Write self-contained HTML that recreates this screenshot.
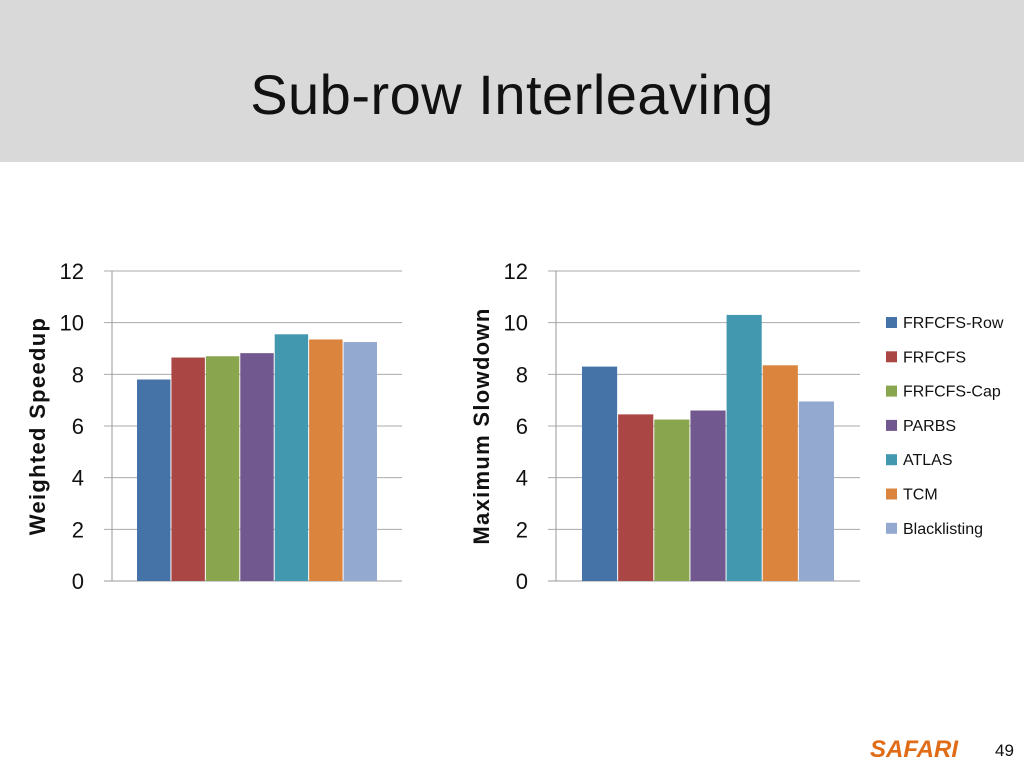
<!DOCTYPE html>
<html><head><meta charset="utf-8"><style>
body{margin:0;width:1024px;height:768px;background:#fff;font-family:"Liberation Sans",sans-serif;overflow:hidden;position:relative}
#hdr{position:absolute;left:0;top:0;width:1024px;height:162px;background:#d9d9d9}
#title{position:absolute;left:0;width:1024px;top:62px;text-align:center;font-size:56px;color:#111;letter-spacing:0.5px}
svg{position:absolute;left:0;top:0}
</style></head><body>
<div id="hdr"><div id="title">Sub-row Interleaving</div></div>
<svg id="s" width="1024" height="768"></svg>
<script>
const series=["FRFCFS-Row","FRFCFS","FRFCFS-Cap","PARBS","ATLAS","TCM","Blacklisting"];
const colors=["#4572A7","#AA4643","#89A54E","#71588F","#4198AF","#DB843D","#93A9CF"];
const speedup=[7.8,8.65,8.7,8.82,9.55,9.35,9.25];
const slowdown=[8.3,6.45,6.25,6.6,10.3,8.35,6.95];
const ticks=[0,2,4,6,8,10,12];
const svg=document.getElementById('s');const NS="http://www.w3.org/2000/svg";
function mk(t,a,txt){const e=document.createElementNS(NS,t);for(const k in a)e.setAttribute(k,a[k]);if(txt!==undefined)e.textContent=txt;svg.appendChild(e);return e;}
function chart(vals,x0,x1,b0,b1,title,tx,nm){
 const y=v=>581-v*(310/12);
 ticks.forEach(t=>{const l=mk('line',{x1:x0,x2:x1,y1:y(t),y2:y(t),stroke:t?'#aaa':'#999','stroke-width':1});
 
 const tx2=mk('text',{x:x0-20,y:y(t)+8,'text-anchor':'end','font-size':22,fill:'#111'},t);
 });
 const ax=mk('line',{x1:x0+8,x2:x0+8,y1:y(12),y2:y(0),stroke:'#999'});
 
 const w=(b1-b0)/vals.length;
 vals.forEach((v,i)=>{const r=mk('rect',{x:b0+i*w,y:y(v),width:w-1,height:y(0)-y(v),fill:colors[i]});
 });
 const t=mk('text',{x:0,y:0,transform:`translate(${tx},426) rotate(-90)`,'text-anchor':'middle','font-size':22,'font-weight':'bold',fill:'#111','letter-spacing':'1.3'},title);
 
}
chart(speedup,104,402,137,378,"Weighted Speedup",45,'speedup');
chart(slowdown,548,860,582,835,"Maximum Slowdown",489,'slowdown');
series.forEach((s,i)=>{const yy=323+i*34.3;
 const r=mk('rect',{x:886,y:yy-6,width:11,height:11,fill:colors[i]});
 
 const t=mk('text',{x:903,y:yy+5,'font-size':16,fill:'#111'},s);
 });
const lg=mk('text',{x:870,y:757,'font-size':24,'font-weight':'bold','font-style':'italic',fill:'#E06C17'},'SAFARI');

const pn=mk('text',{x:995,y:756,'font-size':17,fill:'#111'},'49');

</script>
</body></html>
